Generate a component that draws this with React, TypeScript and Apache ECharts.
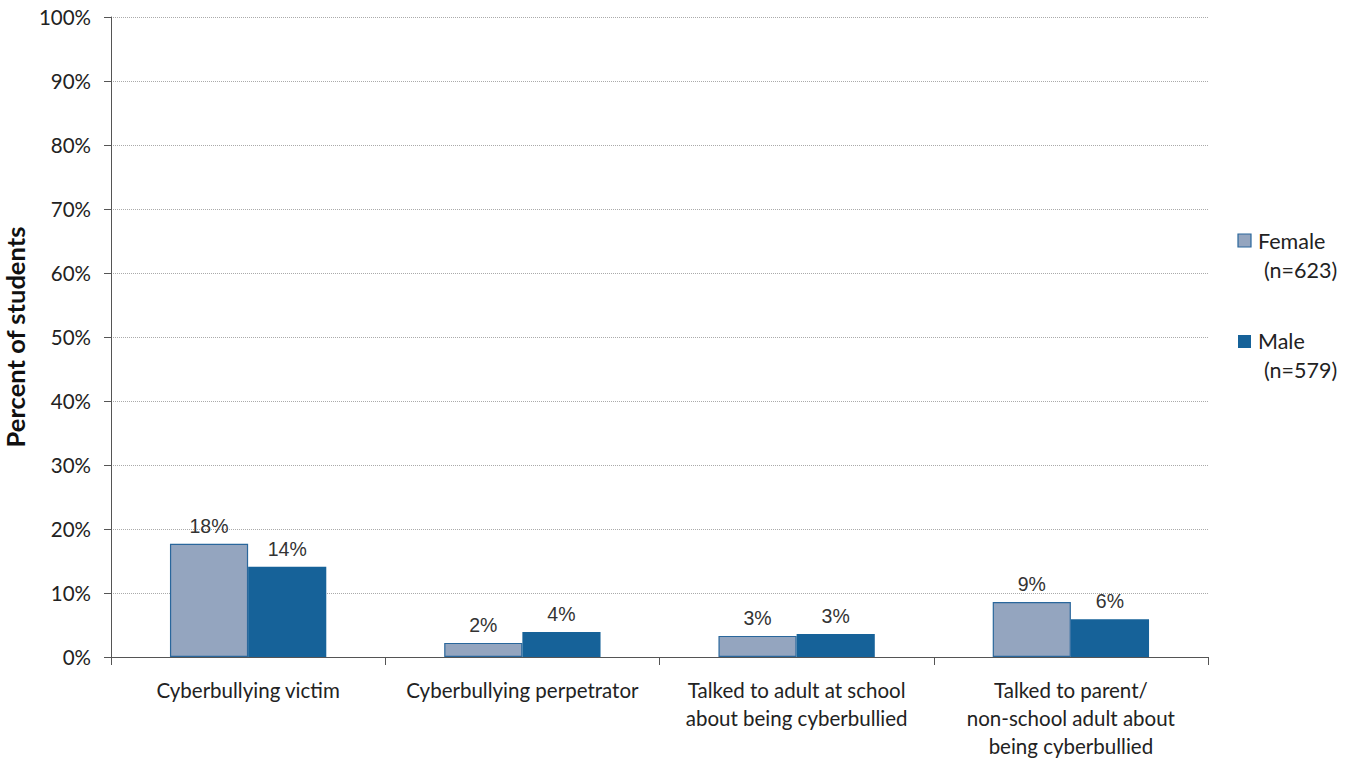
import React, { useEffect, useRef } from "react";
import * as echarts from "echarts";

const categories = [
  "Cyberbullying victim",
  "Cyberbullying perpetrator",
  "Talked to adult at school\nabout being cyberbullied",
  "Talked to parent/\nnon-school adult about\nbeing cyberbullied",
];
const femaleValues = [17.7, 2.2, 3.3, 8.6];
const maleValues = [14.1, 3.9, 3.6, 5.9];
const femaleLabels = ["18%", "2%", "3%", "9%"];
const maleLabels = ["14%", "4%", "3%", "6%"];
const legendNames = ["Female", "Male"];
const legendNs = ["(n=623)", "(n=579)"];

const FEMALE = "#94A5BF";
const MALE = "#166299";
const FONT = "Lato, 'Open Sans', sans-serif";

export default function App() {
  const ref = useRef<HTMLDivElement>(null);
  useEffect(() => {
    if (!ref.current) return;
    const chart = echarts.init(ref.current, undefined, { renderer: "svg" });
    const labelStyle = (labels: string[]) => ({
      show: true,
      position: "top" as const,
      distance: 8,
      color: "#333",
      fontSize: 19.5,
      fontFamily: "'Liberation Sans', Arial, sans-serif",
      formatter: (p: any) => labels[p.dataIndex],
    });
    chart.setOption({
      animation: false,
      backgroundColor: "#fff",
      grid: {
        left: 111,
        right: 145,
        top: 17,
        bottom: 104,
        containLabel: false,
        outerBoundsMode: "none",
      },
      xAxis: {
        type: "category",
        data: categories,
        axisLine: { lineStyle: { color: "#555", width: 1 } },
        axisTick: { show: true, length: 8, lineStyle: { color: "#555" } },
        axisLabel: {
          color: "#222",
          fontSize: 20.5,
          fontFamily: FONT,
          lineHeight: 28,
          margin: 19,
          interval: 0,
        },
      },
      yAxis: {
        type: "value",
        min: 0,
        max: 100,
        interval: 10,
        name: "Percent of students",
        nameLocation: "middle",
        nameGap: 74,
        nameTextStyle: { fontSize: 25.5, fontWeight: "bold", color: "#111", fontFamily: FONT },
        axisLine: { show: true, lineStyle: { color: "#555", width: 1 } },
        axisTick: { show: true, length: 7, lineStyle: { color: "#555" } },
        axisLabel: {
          color: "#222",
          fontSize: 20.5,
          fontFamily: FONT,
          margin: 20,
          formatter: (v: number) => v + "%",
        },
        splitLine: { show: true, lineStyle: { color: "#aaa", type: "dotted", width: 1 } },
      },
      series: [
        {
          name: legendNames[0],
          type: "bar",
          data: femaleValues,
          barGap: "0%",
          barCategoryGap: "43%",
          itemStyle: { color: FEMALE, borderColor: "#2A679C", borderWidth: 1.2 },
          label: labelStyle(femaleLabels),
        },
        {
          name: legendNames[1],
          type: "bar",
          data: maleValues,
          itemStyle: { color: MALE },
          label: labelStyle(maleLabels),
        },
      ],
      graphic: [
        { type: "rect", shape: { x: 1238, y: 234, width: 13, height: 13 }, style: { fill: FEMALE, stroke: "#2A679C", lineWidth: 1.2 } },
        { type: "text", x: 1258, y: 241, style: { text: legendNames[0], fontSize: 21.5, fontFamily: FONT, fill: "#222", verticalAlign: "middle" } },
        { type: "text", x: 1264, y: 270, style: { text: legendNs[0], fontSize: 21.5, fontFamily: FONT, fill: "#222", verticalAlign: "middle" } },
        { type: "rect", shape: { x: 1238, y: 335, width: 13, height: 13 }, style: { fill: MALE } },
        { type: "text", x: 1258, y: 341, style: { text: legendNames[1], fontSize: 21.5, fontFamily: FONT, fill: "#222", verticalAlign: "middle" } },
        { type: "text", x: 1264, y: 370, style: { text: legendNs[1], fontSize: 21.5, fontFamily: FONT, fill: "#222", verticalAlign: "middle" } },
      ],
    });
    return () => chart.dispose();
  }, []);
  return (
    <div
      ref={ref}
      style={{ position: "fixed", left: 0, top: 0, width: 1353, height: 761, background: "#fff" }}
    />
  );
}
